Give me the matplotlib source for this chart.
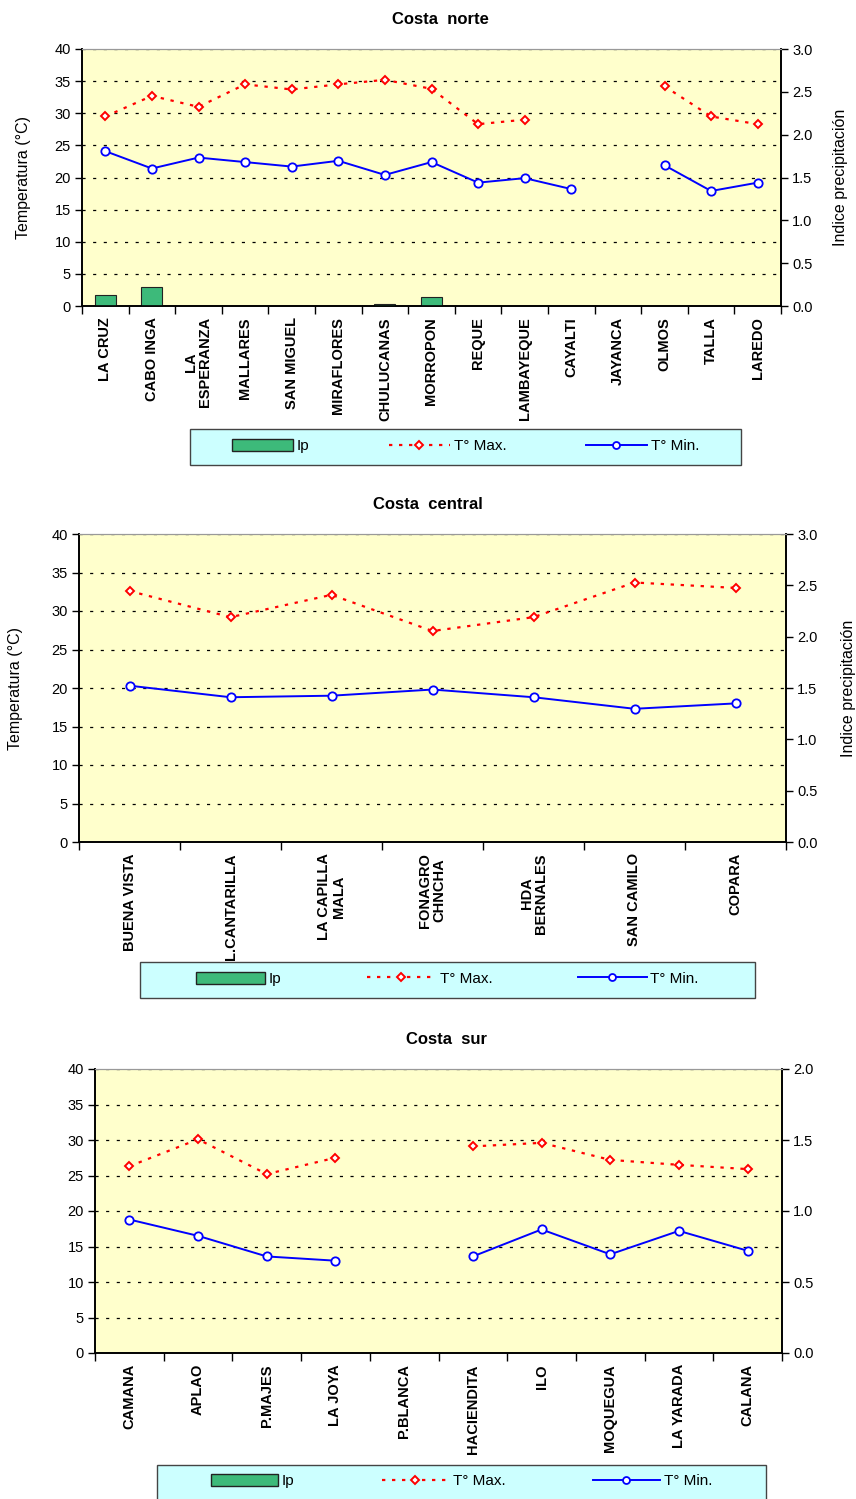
import numpy as np
import matplotlib
matplotlib.use('Agg')
import matplotlib.pyplot as plt
from matplotlib.patches import Patch, Rectangle
from matplotlib.lines import Line2D

plt.rcParams['font.family'] = ['Liberation Sans', 'DejaVu Sans']

nan = np.nan

# Costa norte
norte_est = ['LA CRUZ', 'CABO INGA', 'LA\nESPERANZA', 'MALLARES', 'SAN MIGUEL', 'MIRAFLORES',
             'CHULUCANAS', 'MORROPON', 'REQUE', 'LAMBAYEQUE', 'CAYALTI', 'JAYANCA',
             'OLMOS', 'TALLA', 'LAREDO']
norte_tmax = [29.5, 32.7, 31.0, 34.5, 33.7, 34.5, 35.2, 33.8, 28.3, 29.0, nan, nan, 34.2, 29.5, 28.3]
norte_tmin = [24.1, 21.4, 23.1, 22.4, 21.7, 22.6, 20.4, 22.4, 19.2, 19.9, 18.2, nan, 21.9, 17.9, 19.2]
norte_ip = [0.13, 0.22, 0, 0, 0, 0, 0.02, 0.10, 0, 0, 0, 0, 0, 0, 0]

# Costa central
central_est = ['BUENA VISTA', 'L.CANTARILLA', 'LA CAPILLA\nMALA', 'FONAGRO\nCHNCHA',
               'HDA\nBERNALES', 'SAN CAMILO', 'COPARA']
central_tmax = [32.6, 29.2, 32.1, 27.4, 29.2, 33.7, 33.0]
central_tmin = [20.3, 18.8, 19.0, 19.8, 18.8, 17.3, 18.0]
central_ip = [0, 0, 0, 0, 0, 0, 0]

# Costa sur
sur_est = ['CAMANA', 'APLAO', 'P.MAJES', 'LA JOYA', 'P.BLANCA', 'HACIENDITA', 'ILO',
           'MOQUEGUA', 'LA YARADA', 'CALANA']
sur_tmax = [26.3, 30.1, 25.2, 27.5, nan, 29.1, 29.6, 27.2, 26.5, 25.9]
sur_tmin = [18.8, 16.5, 13.6, 13.0, nan, 13.6, 17.4, 13.9, 17.2, 14.4]
sur_ip = [0, 0, 0, 0, 0, 0, 0, 0, 0, 0]

W, H = 856, 1499
fig = plt.figure(figsize=(W / 100, H / 100), dpi=100)

bar_color = '#3dba7a'


def rect(x0, y0, x1, y1):
    # pixel box -> figure fraction
    return [x0 / W, 1 - y1 / H, (x1 - x0) / W, (y1 - y0) / H]


def panel(box, title, title_xy, est, tmax, tmin, ip, ip_max, ylab, ylab_x, rlab, rlab_x,
          leg_box, leg_y, hlen, cspace):
    ax = fig.add_axes(rect(*box))
    ax.set_facecolor('#ffffcc')
    n = len(est)
    x = np.arange(n)

    ax2 = ax.twinx()
    ax2.bar(x, ip, width=0.45, color=bar_color, edgecolor='#222222', linewidth=0.8)
    ax2.set_ylim(0, ip_max)
    ax2.set_yticks(np.arange(0, ip_max + 0.01, 0.5))
    ax2.set_yticklabels(['%.1f' % v for v in np.arange(0, ip_max + 0.01, 0.5)])
    ax2.tick_params(axis='y', direction='out', length=5, width=1, labelsize=10.5, pad=3)

    ax.plot(x, tmax, color='red', linestyle=(0, (1.5, 3)), linewidth=1.6,
            marker='D', markersize=4, markerfacecolor='white', markeredgecolor='red',
            markeredgewidth=1.4, zorder=3)
    ax.plot(x, tmin, color='blue', linewidth=1.4,
            marker='o', markersize=6, markerfacecolor='white', markeredgecolor='blue',
            markeredgewidth=1.3, zorder=3)

    ax.set_ylim(0, 40)
    ax.set_yticks(range(0, 41, 5))
    ax.set_xlim(-0.5, n - 0.5)
    ax.yaxis.grid(True, color='black', linestyle=(0, (2.5, 6)), linewidth=0.9)
    ax.set_axisbelow(True)
    ax.tick_params(axis='y', direction='out', length=5, width=1, labelsize=10.5, pad=3)

    ax.set_xticks(x)
    ax.set_xticklabels(est, rotation=90, va='top', ha='center', multialignment='center',
                       fontsize=10.5, fontweight='bold', linespacing=1.0)
    ax.tick_params(axis='x', which='major', length=0, pad=8)
    ax.set_xticks(np.arange(-0.5, n, 1.0), minor=True)
    ax.tick_params(axis='x', which='minor', direction='out', length=6, width=1)

    for a in (ax, ax2):
        a.spines['top'].set_color('#999999')
        a.spines['left'].set_linewidth(1.2)
        a.spines['right'].set_linewidth(1.2)
        a.spines['bottom'].set_linewidth(1.2)

    fig.text(title_xy[0] / W, 1 - title_xy[1] / H, title, ha='center', va='center',
             fontsize=12, fontweight='bold')
    if ylab:
        fig.text(ylab_x / W, 1 - (box[1] + box[3]) / 2 / H, ylab, rotation=90,
                 ha='center', va='center', fontsize=11.5)
    if rlab:
        fig.text(rlab_x / W, 1 - (box[1] + box[3]) / 2 / H, rlab, rotation=90,
                 ha='center', va='center', fontsize=11.5)

    # legend frame drawn on top of tick labels
    lx0, ly0, lx1, ly1 = leg_box
    fig.patches.append(Rectangle((lx0 / W, 1 - ly1 / H), (lx1 - lx0) / W, (ly1 - ly0) / H,
                                 transform=fig.transFigure, facecolor='#ccffff',
                                 edgecolor='#444444', linewidth=1.0, zorder=4))
    handles = [Patch(facecolor=bar_color, edgecolor='#222222', linewidth=1.0),
               Line2D([], [], color='red', linestyle=(0, (1.5, 3)), linewidth=1.6, marker='D',
                      markersize=4, markerfacecolor='white', markeredgecolor='red',
                      markeredgewidth=1.4),
               Line2D([], [], color='blue', linewidth=1.4, marker='o', markersize=5,
                      markerfacecolor='white', markeredgecolor='blue', markeredgewidth=1.3)]
    fig.legend(handles, ['Ip', 'T° Max.', 'T° Min.'], ncol=3, loc='center',
               bbox_to_anchor=((lx0 + lx1) / 2 / W, 1 - leg_y / H),
               fontsize=11, handlelength=hlen, handleheight=0.8, handletextpad=0.25,
               columnspacing=cspace, borderpad=0, frameon=False)
    return ax


panel((82, 49, 781, 306), 'Costa  norte', (440, 20), norte_est, norte_tmax, norte_tmin,
      norte_ip, 3.0, 'Temperatura (°C)', 24, 'Indice precipitación', 840,
      (190, 429, 741, 465), 446, 4.0, 5.2)
panel((79, 534, 786, 842), 'Costa  central', (428, 505), central_est, central_tmax, central_tmin,
      central_ip, 3.0, 'Temperatura (°C)', 16, 'Indice precipitación', 848,
      (140, 962, 755, 998), 979, 4.5, 5.6)
panel((95, 1069, 782, 1353), 'Costa  sur', (447, 1039), sur_est, sur_tmax, sur_tmin,
      sur_ip, 2.0, None, 0, None, 0,
      (157, 1465, 766, 1504), 1481, 4.4, 5.7)

fig.savefig('out.png', dpi=100)
